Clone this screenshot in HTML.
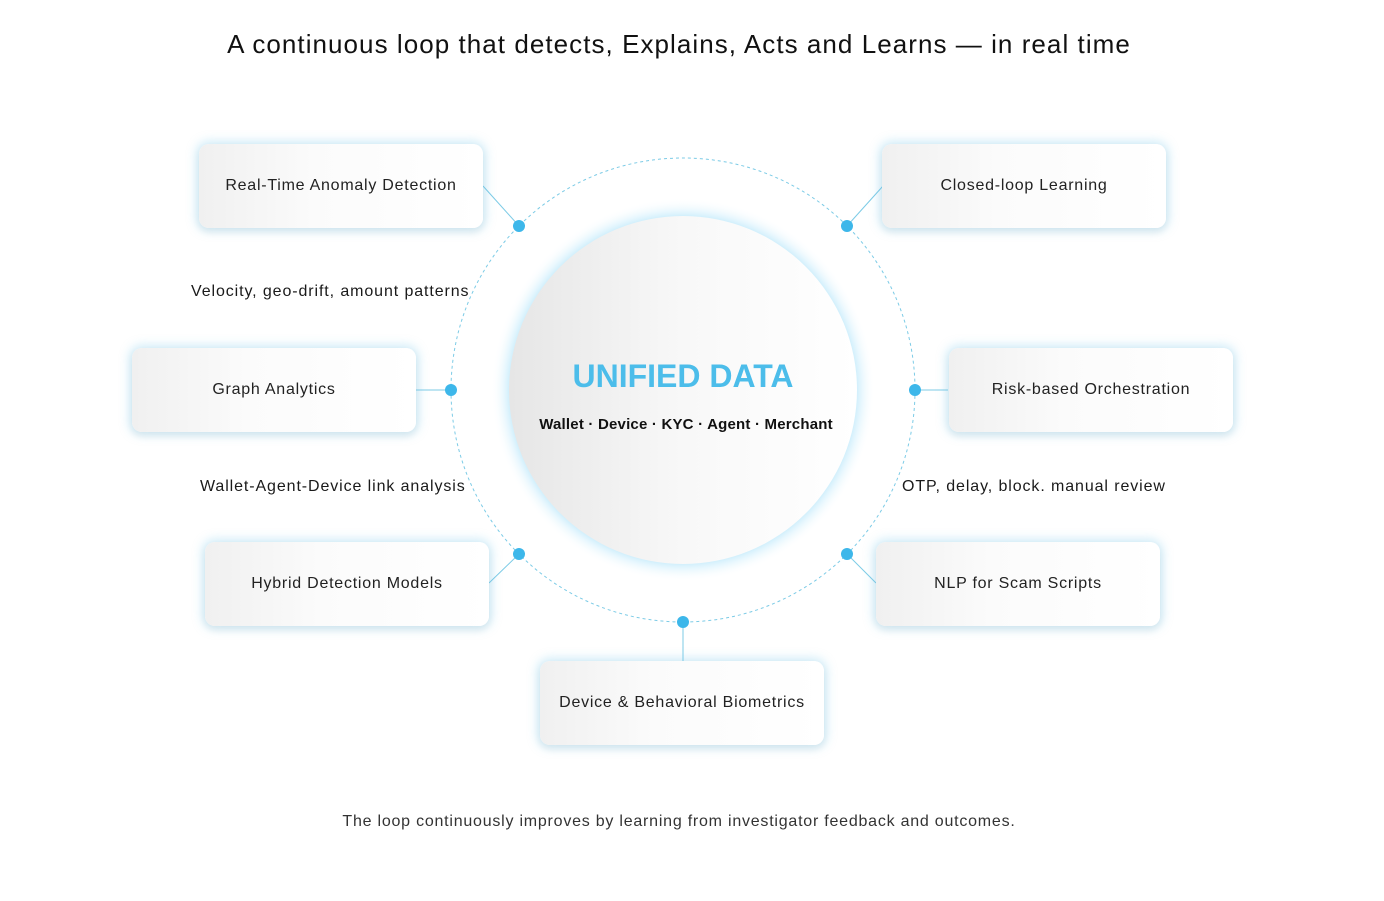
<!DOCTYPE html>
<html><head><meta charset="utf-8"><style>
body{margin:0;width:1384px;height:901px;background:#fff;font-family:"Liberation Sans",sans-serif;position:relative;overflow:hidden;color:#1a1a1a}
.t{position:absolute;white-space:nowrap}
.box{position:absolute;width:284px;height:84px;border-radius:10px;background:linear-gradient(90deg,#f0f0f0,#fbfbfb 40%,#fff);box-shadow:0 0 10px 3px rgba(120,200,235,.35),0 4px 8px rgba(0,0,0,.06);display:flex;align-items:center;justify-content:center;font-size:16px;letter-spacing:0.75px;color:#222}
.lab{font-size:16px;letter-spacing:0.9px}
</style></head><body>
<div class="t" style="left:0;width:1358px;text-align:center;top:29px;font-size:26px;letter-spacing:1.05px;color:#111">A continuous loop that detects, Explains, Acts and Learns — in real time</div>
<svg width="1384" height="901" style="position:absolute;left:0;top:0">
<defs><radialGradient id="g" cx="50%" cy="50%" r="50%"><stop offset="90%" stop-color="#bfe9fb" stop-opacity=".8"/><stop offset="100%" stop-color="#fff" stop-opacity="0"/></radialGradient>
<linearGradient id="c" x1="0" x2="1"><stop offset="0" stop-color="#e6e6e6"/><stop offset=".5" stop-color="#f8f8f8"/><stop offset="1" stop-color="#fff"/></linearGradient></defs>
<circle cx="683" cy="390" r="232" fill="none" stroke="#7ccbe6" stroke-width="1" stroke-dasharray="3 3"/>
<circle cx="683" cy="390" r="192" fill="url(#g)"/>
<circle cx="683" cy="390" r="174" fill="url(#c)"/>
<g stroke="#7ccbe6" stroke-width="1">
<line x1="483" y1="186" x2="519" y2="226"/><line x1="883" y1="186" x2="847" y2="226"/>
<line x1="416" y1="390" x2="451" y2="390"/><line x1="948" y1="390" x2="915" y2="390"/>
<line x1="489" y1="583" x2="519" y2="554"/><line x1="876" y1="583" x2="847" y2="554"/>
<line x1="683" y1="661" x2="683" y2="622"/></g>
<g fill="#3db7ea"><circle cx="519" cy="226" r="6"/><circle cx="847" cy="226" r="6"/><circle cx="451" cy="390" r="6"/><circle cx="915" cy="390" r="6"/><circle cx="519" cy="554" r="6"/><circle cx="847" cy="554" r="6"/><circle cx="683" cy="622" r="6"/></g>
</svg>
<div class="box" style="left:199px;top:144px">Real-Time Anomaly Detection</div>
<div class="box" style="left:882px;top:144px">Closed-loop Learning</div>
<div class="box" style="left:132px;top:348px">Graph Analytics</div>
<div class="box" style="left:949px;top:348px">Risk-based Orchestration</div>
<div class="box" style="left:205px;top:542px">Hybrid Detection Models</div>
<div class="box" style="left:876px;top:542px">NLP for Scam Scripts</div>
<div class="box" style="left:540px;top:661px">Device &amp; Behavioral Biometrics</div>
<div class="t lab" style="left:191px;top:283px">Velocity, geo-drift, amount patterns</div>
<div class="t lab" style="left:200px;top:478px">Wallet-Agent-Device link analysis</div>
<div class="t lab" style="left:902px;top:478px">OTP, delay, block. manual review</div>
<div class="t" style="left:509px;width:348px;text-align:center;top:358px;font-size:32px;font-weight:bold;color:#4cbdea">UNIFIED DATA</div>
<div class="t" style="left:512px;width:348px;text-align:center;top:416px;font-size:15px;font-weight:bold;letter-spacing:0.2px;color:#111">Wallet · Device · KYC · Agent · Merchant</div>
<div class="t" style="left:0;width:1358px;text-align:center;top:813px;font-size:16px;letter-spacing:0.77px;color:#333">The loop continuously improves by learning from investigator feedback and outcomes.</div>
</body></html>
